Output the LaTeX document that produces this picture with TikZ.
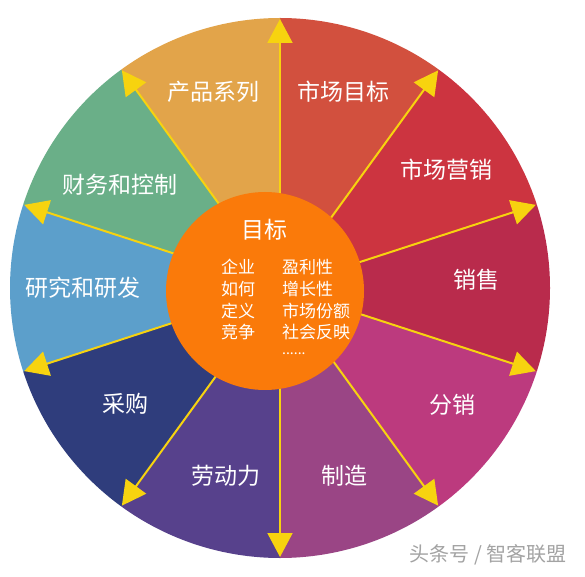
\documentclass[tikz,border=0pt]{standalone}
\usepackage{fontspec}
\newfontfamily\cjk{Noto Sans CJK SC}
\usetikzlibrary{arrows.meta}
\definecolor{cA}{HTML}{D2503E}
\definecolor{cB}{HTML}{CC3440}
\definecolor{cC}{HTML}{B92B4C}
\definecolor{cD}{HTML}{BC3A7E}
\definecolor{cE}{HTML}{9A4585}
\definecolor{cF}{HTML}{57418C}
\definecolor{cG}{HTML}{2F3D7C}
\definecolor{cH}{HTML}{5C9FCB}
\definecolor{cI}{HTML}{6AAF88}
\definecolor{cJ}{HTML}{E2A44A}
\definecolor{yel}{HTML}{F7D30F}
\definecolor{org}{HTML}{FA7A0A}
\definecolor{wm}{HTML}{A3A3A3}
\tikzset{
  lbl/.style={text=white, font=\cjk\fontsize{23}{26}\selectfont, inner sep=0pt},
  sml/.style={text=white, font=\cjk\fontsize{17}{20}\selectfont, inner sep=0pt, anchor=west},
  spoke/.style={draw=yel, line width=2pt, -{Triangle[length=24pt,width=25pt]}, yel},
}
\begin{document}
\begin{tikzpicture}[x=1pt,y=1pt]
\useasboundingbox (0,0) rectangle (585,576);
\fill[white] (0,0) rectangle (585,576);
\coordinate (c) at (280,288);
\begin{scope}[shift={(280,288)}]
\foreach \a/\col in {54/cA,18/cB,-18/cC,-54/cD,-90/cE,-126/cF,-162/cG,162/cH,126/cI,90/cJ}{
  \fill[\col] (0,0) -- (\a:270) arc[start angle=\a, end angle=\a+36, radius=270] -- cycle;
}
\foreach \a [count=\i] in {18,54,90,126,162,198,234,270,306,342}{
  \coordinate (t\i) at (\a:269);
}
\end{scope}
\foreach \i in {1,...,10}{
  \draw[spoke] (c) -- (t\i);
}
\fill[org] (265,285) circle[radius=99];
\node[lbl] (n1) at (213,484) {产品系列};
\node[lbl] (n2) at (343,484) {市场目标};
\node[lbl] (n3) at (120,391) {财务和控制};
\node[lbl] (n4) at (446,406) {市场营销};
\node[lbl] (n5) at (83,288) {研究和研发};
\node[lbl] (n6) at (476,296) {销售};
\node[lbl] (n7) at (125,172) {采购};
\node[lbl] (n8) at (452,171) {分销};
\node[lbl] (n9) at (226,100) {劳动力};
\node[lbl] (n10) at (344,100) {制造};
\node[lbl] (g) at (264,346) {目标};
\node[sml] (l1) at (221,309) {企业};
\node[sml] (l2) at (221,287) {如何};
\node[sml] (l3) at (221,265) {定义};
\node[sml] (l4) at (221,244) {竞争};
\node[sml] (r1) at (282,309) {盈利性};
\node[sml] (r2) at (282,287) {增长性};
\node[sml] (r3) at (282,265) {市场份额};
\node[sml] (r4) at (282,244) {社会反映};
\node[sml, font=\cjk\fontsize{14}{16}\selectfont] (r5) at (282,222) {......};
\node[text=wm, font=\cjk\fontsize{20}{22}\selectfont, inner sep=0pt] (w) at (488,21) {头条号 / 智客联盟};
\end{tikzpicture}
\end{document}
